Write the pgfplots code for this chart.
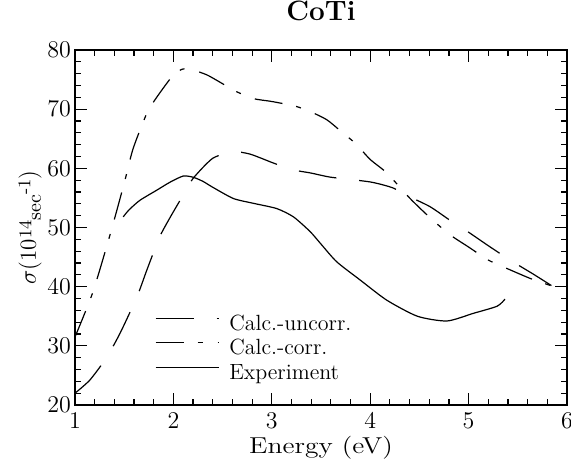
\documentclass[border=0pt]{standalone}
\usepackage{fontspec}
\usepackage{graphicx}
\usepackage{pgfplots}
\pgfplotsset{compat=1.18}
\begin{document}
\begin{tikzpicture}
\begin{axis}[
  scale only axis, width=246pt, height=177.5pt,
  at={(0,0)}, anchor=south west,
  xmin=1, xmax=6, ymin=20, ymax=80,
  xtick={1,2,3,4,5,6}, ytick={20,30,40,50,60,70,80},
  minor x tick num=4, minor y tick num=4,
  tick align=inside,
  major tick length=6pt, minor tick length=3pt,
  axis line style={line width=1.3pt},
  every tick/.style={line width=0.6pt, black},
  tick label style={font=\fontsize{11.5}{13}\selectfont},
  xticklabel style={yshift=-0.5pt},
  yticklabel style={xshift=1.5pt},
  title={\fontsize{14}{16}\selectfont\bfseries CoTi},
  title style={at={(axis description cs:0.5,1.048)}, anchor=base},
  xlabel={\fontsize{11.5}{13}\selectfont\scalebox{1.2}[1]{Energy (eV)}},
  xlabel style={at={(axis description cs:0.5,-0.138)}, anchor=base},
  ylabel={\fontsize{11.5}{13}\selectfont $\sigma$(10\raisebox{2.2pt}{\fontsize{9}{10}\selectfont 14}\raisebox{-2.5pt}{\fontsize{10}{11}\selectfont sec}\raisebox{2.7pt}{\fontsize{9}{10}\selectfont -1})},
  ylabel style={at={(axis description cs:-0.0915,0.5)}, anchor=center},
  legend style={draw=none, fill=none, at={(axis cs:1.81,35.7)}, anchor=north west,
    font=\fontsize{11}{13}\selectfont, row sep=0pt, inner sep=0pt,
    nodes={text height=8pt, text depth=2.5pt, inner ysep=0.9pt, inner xsep=0pt},
    /tikz/every odd column/.append style={column sep=5pt}},
  legend cell align=left,
  legend image code/.code={\draw[#1] (0pt,3.3pt) -- (31.5pt,3.3pt);},
]
\addplot[black, line width=0.6pt, smooth, tension=0.4, dash pattern=on 19pt off 11.5pt] coordinates {
(1.0,22) (1.15,24.2) (1.32,28) (1.46,32.2) (1.63,38.3) (1.73,42.8) (1.86,48.4)
(1.97,51.8) (2.1,55.5) (2.2,58.3) (2.4,61.7) (2.61,62.8) (2.78,62.4) (3.0,61)
(3.2,59.8) (3.4,59.2) (3.6,58.5) (4.0,57.7) (4.23,56.7) (4.4,55.2) (4.61,53.5)
(4.83,51) (5.0,49.2) (5.22,46.7) (5.45,44.2) (5.65,42.2) (5.85,40.1)
};
\addlegendentry{Calc.-uncorr.}
\addplot[black, line width=0.6pt, smooth, tension=0.4, dash pattern=on 14pt off 7pt on 2.5pt off 7.5pt] coordinates {
(1.0,31.5) (1.18,39) (1.36,49) (1.5,57.5) (1.59,63.3) (1.73,69.3) (1.83,72)
(2.0,75.8) (2.1,76.8) (2.2,76.6) (2.34,75.8) (2.5,74.3) (2.61,73.2) (2.81,71.8)
(3.0,71.3) (3.24,70.5) (3.39,69.6) (3.56,68.2) (3.7,66.3) (3.85,64.2) (4.0,61.5)
(4.17,59.2) (4.4,55) (4.58,52.1) (4.8,48.9) (5.0,46.7) (5.2,44.5) (5.4,43)
(5.64,41.3) (5.85,40.1)
};
\addlegendentry{Calc.-corr.}
\addplot[black, line width=0.6pt, smooth, tension=0.4] coordinates {
(1.49,51.8) (1.55,53) (1.66,54.6) (1.83,56.3) (1.97,57.7) (2.1,58.7) (2.2,58.5)
(2.3,57.8) (2.4,56.8) (2.61,54.9) (2.81,54.1) (3.05,53.2) (3.22,51.8) (3.39,49.3)
(3.5,47.2) (3.66,44.2) (3.9,41.1) (4.17,37.7) (4.48,35) (4.78,34.2) (5.05,35.5)
(5.29,36.7) (5.37,37.9)
};
\addlegendentry{Experiment}
\end{axis}
\pgfresetboundingbox
\path (-37.5pt,-27.5pt) rectangle (248pt,202.5pt);
\end{tikzpicture}
\end{document}
